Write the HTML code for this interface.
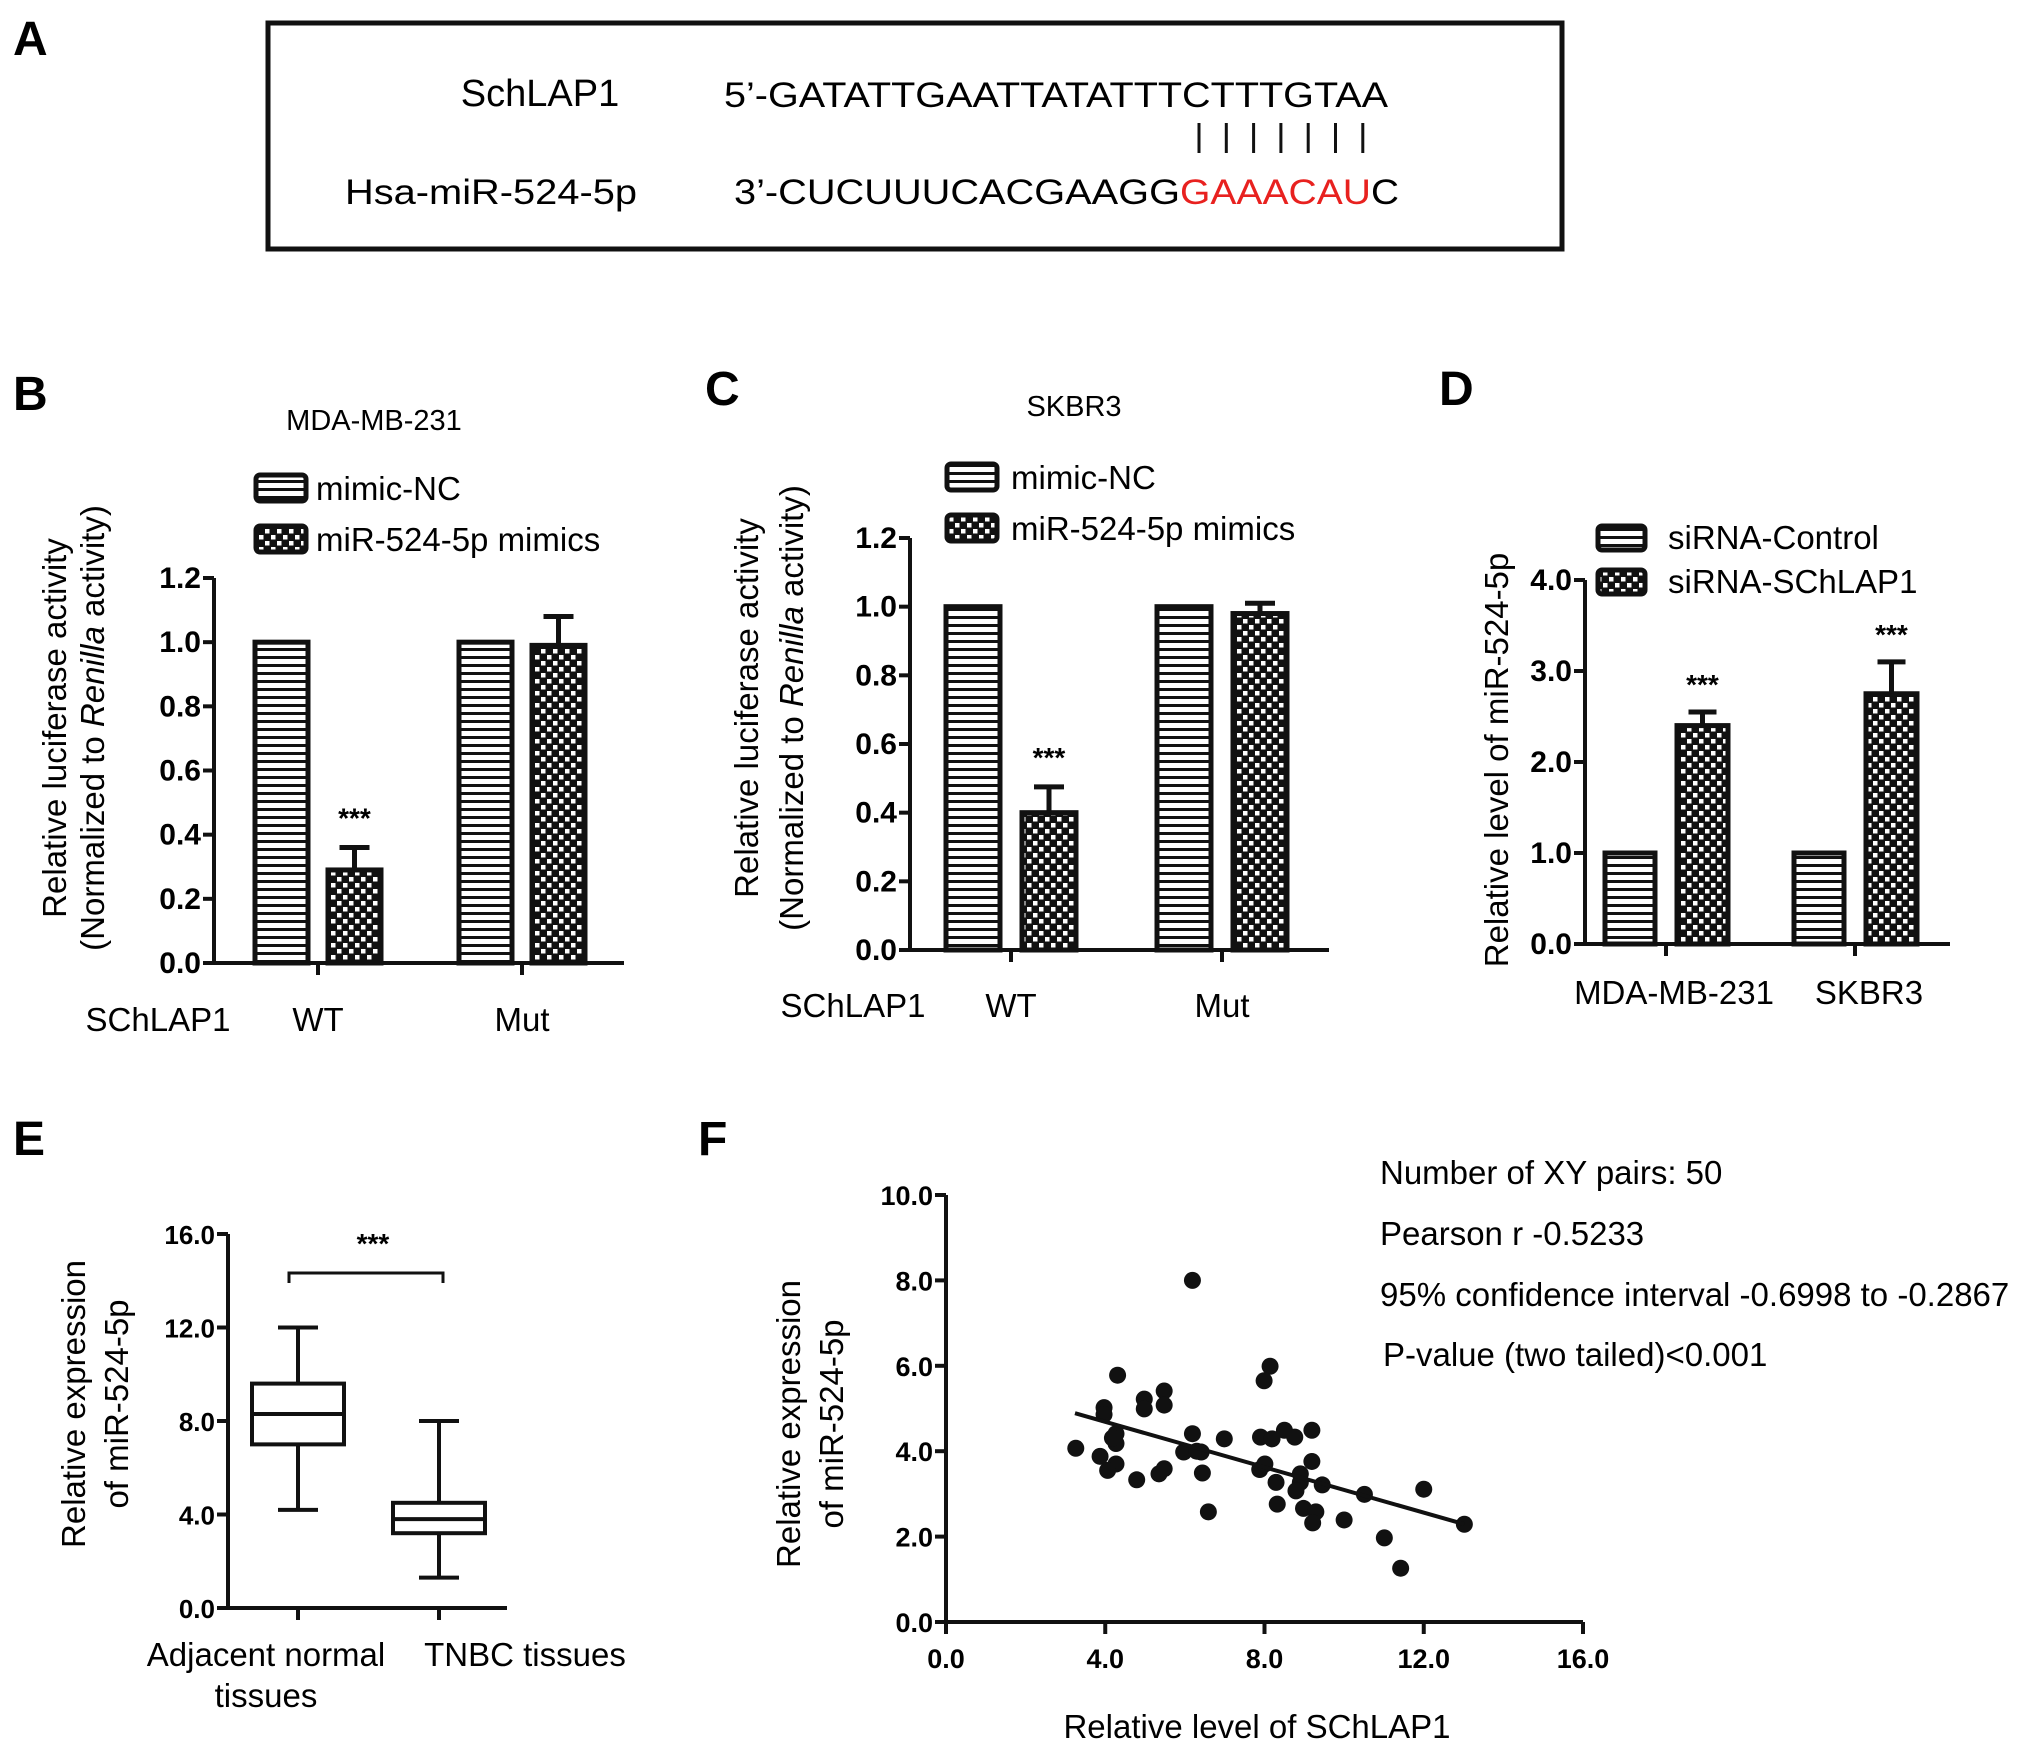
<!DOCTYPE html>
<html><head><meta charset="utf-8"><style>
html,body{margin:0;padding:0;background:#fff;}
svg{display:block;font-family:"Liberation Sans",Arial,sans-serif;}
</style></head><body>
<svg id="fig" width="2031" height="1746" viewBox="0 0 2031 1746" xmlns="http://www.w3.org/2000/svg">
<defs>
<pattern id="stripes" width="8" height="8" patternUnits="userSpaceOnUse"><rect width="8" height="8" fill="#fff"/><rect y="0" width="8" height="3" fill="#111"/></pattern>
<pattern id="checks" width="12" height="12" patternUnits="userSpaceOnUse"><rect width="12" height="12" fill="#111"/><rect x="1" y="1" width="4.5" height="4.5" fill="#fff"/><rect x="7" y="7" width="4.5" height="4.5" fill="#fff"/></pattern>
</defs>
<g>
<text x="13" y="55" font-size="48" font-weight="bold">A</text>
<rect x="268" y="23" width="1294" height="226" fill="none" stroke="#111" stroke-width="5"/>
<text x="540" y="106" font-size="38" text-anchor="middle">SchLAP1</text>
<text x="724" y="107" font-size="35" textLength="664" lengthAdjust="spacingAndGlyphs">5’-GATATTGAATTATATTTCTTTGTAA</text>
<g id="pairs"></g>
<text x="345" y="204" font-size="35" textLength="292" lengthAdjust="spacingAndGlyphs">Hsa-miR-524-5p</text>
<text x="734" y="204" font-size="35" textLength="446" lengthAdjust="spacingAndGlyphs">3’-CUCUUUCACGAAGG</text>
<text x="1180" y="204" font-size="35" fill="#e8211f" textLength="191" lengthAdjust="spacingAndGlyphs">GAAACAU</text>
<text x="1371" y="204" font-size="35" textLength="28" lengthAdjust="spacingAndGlyphs">C</text>
</g>
<g id="pb"></g>
<g id="pc"></g>
<g id="pd"></g>
<g id="pe"></g>
<g id="pf"></g>
</svg>
<script>
// ---- data ----
const bCategories = ["WT", "Mut"];
const bNC = [1.0, 1.0];
const bMimic = [0.29, 0.99];
const bMimicErr = [0.07, 0.09];
const bTicks = ["0.0","0.2","0.4","0.6","0.8","1.0","1.2"];

const cCategories = ["WT", "Mut"];
const cNC = [1.0, 1.0];
const cMimic = [0.40, 0.98];
const cMimicErr = [0.075, 0.03];
const cTicks = ["0.0","0.2","0.4","0.6","0.8","1.0","1.2"];

const dCategories = ["MDA-MB-231", "SKBR3"];
const dControl = [1.0, 1.0];
const dSi = [2.4, 2.75];
const dSiErr = [0.15, 0.35];
const dTicks = ["0.0","1.0","2.0","3.0","4.0"];

const eGroups = ["Adjacent normal tissues", "TNBC tissues"];
const eMin = [4.2, 1.3];
const eQ1 = [7.0, 3.2];
const eMed = [8.3, 3.8];
const eQ3 = [9.6, 4.5];
const eMax = [12.0, 8.0];
const eTicks = ["0.0","4.0","8.0","12.0","16.0"];

const fX = [6.19,8.14,7.99,4.31,5.48,5.48,4.98,4.98,3.97,3.97,4.27,4.27,3.26,3.87,4.27,4.06,4.79,5.35,5.48,6.19,5.97,6.41,6.44,6.99,6.59,7.90,8.19,8.50,8.76,9.19,9.19,7.88,8.29,8.90,8.79,9.45,8.32,8.98,9.29,9.21,10.00,10.51,11.01,11.42,12.0,13.02,8.01,8.9,4.18,6.3];
const fY = [8.0,5.99,5.65,5.78,5.41,5.08,5.22,4.99,5.02,4.86,4.41,4.18,4.07,3.88,3.70,3.55,3.33,3.47,3.59,4.41,3.98,3.98,3.49,4.29,2.58,4.33,4.29,4.49,4.33,4.49,3.76,3.57,3.27,3.27,3.07,3.21,2.76,2.66,2.58,2.32,2.39,2.99,1.97,1.26,3.11,2.29,3.70,3.47,4.31,4.0];
const fFit = [[3.24, 4.89], [13.02, 2.29]];
const fXTicks = ["0.0","4.0","8.0","12.0","16.0"];
const fYTicks = ["0.0","2.0","4.0","6.0","8.0","10.0"];

// ---- helpers ----
const NS = "http://www.w3.org/2000/svg";
function mk(parent, tag, attrs, text) {
  const el = document.createElementNS(NS, tag);
  for (const k in attrs) el.setAttribute(k, attrs[k]);
  if (text !== undefined) el.textContent = text;
  parent.appendChild(el);
  return el;
}
function linear(d0, d1, r0, r1) { return v => r0 + (v - d0) / (d1 - d0) * (r1 - r0); }

(function(){
  const g = document.getElementById('pairs');
  for (let i = 0; i < 7; i++) {
    const x = 1199 + i * 27.3;
    const l = mk(g, 'line', {x1:x, y1:123, x2:x, y2:153, stroke:'#111', 'stroke-width':3});
    
    
  }
})();

function yAxis(g, x, y0, y1, ticks, vmin, vmax, fs) {
  const ys = linear(vmin, vmax, y0, y1);
  const ax = mk(g, 'line', {x1:x, y1:y0+2, x2:x, y2:y1, stroke:'#111', 'stroke-width':4});
  
  
  ticks.forEach(t => {
    const y = ys(parseFloat(t));
    mk(g, 'line', {x1:x-11, y1:y, x2:x, y2:y, stroke:'#111', 'stroke-width':4});
    const tl = mk(g, 'text', {x:x-13, y:y+10, 'font-size':fs||30, 'font-weight':'bold', 'text-anchor':'end'}, t);
    
    
  });
  return ys;
}

function legend(g, x, y, w, h, gap, labels, tx, fs) {
  labels.forEach((lab, i) => {
    const yy = y + i * gap;
    const r = mk(g, 'rect', {x:x, y:yy, width:w, height:h, rx:4, fill: i===0?'url(#stripes)':'url(#checks)', stroke:'#111', 'stroke-width':5});
    
    
    const t = mk(g, 'text', {x:tx, y:yy+h-1, 'font-size':fs||33}, lab);
    
    
  });
}

function bar(g, x, w, ys, v, fill, name) {
  const top = ys(v), bot = ys(0);
  const r = mk(g, 'rect', {x:x, y:top, width:w, height:bot-top, fill:fill, stroke:'#111', 'stroke-width':5});
  
  
}
function errUp(g, cx, ys, v, e, cap) {
  const el = mk(g, 'path', {d:`M${cx},${ys(v)} V${ys(v+e)} M${cx-cap},${ys(v+e)} H${cx+cap}`, stroke:'#111', 'stroke-width':5, fill:'none'});
  
  
}
function stars(g, cx, y) {
  const s = mk(g, 'text', {x:cx, y:y, 'font-size':28, 'font-weight':'bold', 'text-anchor':'middle'}, '***');
  
  
}
function ytitle(g, cx, cy, lines, fs) {
  lines.forEach((ln, i) => {
    const t = mk(g, 'text', {x:0, y:0, 'font-size':fs||33, 'text-anchor':'middle', transform:`translate(${cx[i]},${cy}) rotate(-90)`});
    ln.forEach(part => { mk(t, 'tspan', part.it?{'font-style':'italic'}:{}, part.t); });
    
    
  });
}
function label(g, x, y, txt, fs, opts, name) {
  const a = Object.assign({x:x, y:y, 'font-size':fs, 'text-anchor':'middle'}, opts||{});
  const t = mk(g, 'text', a, txt);
  
  
  return t;
}

function lucPanel(id, letter, lx, ly, title, tx, ty, leg, axis, cats, nc, mim, err, ticks, bw, off, catX, schX, labY) {
  const g = document.getElementById(id);
  label(g, lx, ly, letter, 48, {'font-weight':'bold','text-anchor':'start'}, 'panel-label');
  label(g, tx, ty, title, 29, {}, 'panel-title');
  legend(g, leg.x, leg.y, 50, 26, leg.gap, ['mimic-NC','miR-524-5p mimics'], leg.tx);
  const ys = yAxis(g, axis.x, axis.y0, axis.y1, ticks, 0, 1.2);
  const xa = mk(g, 'line', {x1:axis.x-2, y1:axis.y0, x2:axis.xe, y2:axis.y0, stroke:'#111', 'stroke-width':4});
  
  
  cats.forEach((c, i) => {
    const cx = catX[i];
    bar(g, cx - off - bw, bw, ys, nc[i], 'url(#stripes)', 'bar-mimic-nc-' + c.toLowerCase());
    bar(g, cx + off, bw, ys, mim[i], 'url(#checks)', 'bar-mimics-' + c.toLowerCase());
    errUp(g, cx + off + bw/2, ys, mim[i], err[i], 15);
    mk(g, 'line', {x1:cx, y1:axis.y0, x2:cx, y2:axis.y0+12, stroke:'#111', 'stroke-width':4});
    label(g, cx, labY, c, 33, {}, 'x-tick-label');
  });
  stars(g, catX[0] + off + bw/2, ys(mim[0]+err[0]) - 20);
  label(g, schX, labY, 'SChLAP1', 33, {}, 'x-group-title');
  return g;
}
const gb = lucPanel('pb','B',13,410,'MDA-MB-231',374,430,{x:256,y:475,gap:51,tx:316},{x:214,y0:963,y1:578,xe:624},bCategories,bNC,bMimic,bMimicErr,bTicks,53,10,[318,522],158,1031);
ytitle(gb,[66,104],728,[[{t:'Relative luciferase activity'}],[{t:'(Normalized to '},{t:'Renilla',it:true},{t:' activity)'}]]);
const gc = lucPanel('pc','C',705,405,'SKBR3',1074,416,{x:947,y:464,gap:51,tx:1011},{x:910,y0:950,y1:538,xe:1329},cCategories,cNC,cMimic,cMimicErr,cTicks,54,11,[1011,1222],853,1017);
ytitle(gc,[758,803],708,[[{t:'Relative luciferase activity'}],[{t:'(Normalized to '},{t:'Renilla',it:true},{t:' activity)'}]]);

(function(){
  const g = document.getElementById('pd');
  label(g, 1439, 405, 'D', 48, {'font-weight':'bold','text-anchor':'start'}, 'panel-label');
  legend(g, 1598, 526, 47, 24, 44, ['siRNA-Control','siRNA-SChLAP1'], 1668);
  const ys = yAxis(g, 1585, 944, 580, dTicks, 0, 4);
  const xa = mk(g, 'line', {x1:1583, y1:944, x2:1950, y2:944, stroke:'#111', 'stroke-width':4});
  
  
  const cxs = [1666, 1855];
  dCategories.forEach((c, i) => {
    const cx = cxs[i];
    bar(g, cx - 61, 50, ys, dControl[i], 'url(#stripes)', 'bar-sirna-control');
    bar(g, cx + 11, 51, ys, dSi[i], 'url(#checks)', 'bar-sirna-schlap1');
    errUp(g, cx + 36.5, ys, dSi[i], dSiErr[i], 14);
    stars(g, cx + 36.5, ys(dSi[i] + dSiErr[i]) - 18);
    mk(g, 'line', {x1:cx, y1:944, x2:cx, y2:956, stroke:'#111', 'stroke-width':4});
    label(g, cx + (i===0?8:14), 1004, c, 33, {}, 'x-tick-label');
  });
  ytitle(g, [1508], 760, [[{t:'Relative level of miR-524-5p'}]]);
})();

(function(){
  const g = document.getElementById('pe');
  label(g, 13, 1155, 'E', 48, {'font-weight':'bold','text-anchor':'start'}, 'panel-label');
  const ys = yAxis(g, 228, 1608, 1234, eTicks, 0, 16, 26);
  const xa = mk(g, 'line', {x1:226, y1:1608, x2:507, y2:1608, stroke:'#111', 'stroke-width':4});
  
  
  const cxs = [298, 439], hw = 46;
  eGroups.forEach((c, i) => {
    const cx = cxs[i];
    const el = mk(g, 'path', {d:`M${cx},${ys(eMin[i])} V${ys(eQ1[i])} M${cx},${ys(eQ3[i])} V${ys(eMax[i])} M${cx-20},${ys(eMin[i])} H${cx+20} M${cx-20},${ys(eMax[i])} H${cx+20} M${cx-hw},${ys(eMed[i])} H${cx+hw}`, stroke:'#111', 'stroke-width':4, fill:'none'});
    
    
    const b = mk(g, 'rect', {x:cx-hw, y:ys(eQ3[i]), width:hw*2, height:ys(eQ1[i])-ys(eQ3[i]), fill:'none', stroke:'#111', 'stroke-width':4});
    
    
    mk(g, 'line', {x1:cx, y1:1608, x2:cx, y2:1620, stroke:'#111', 'stroke-width':4});
  });
  const br = mk(g, 'path', {d:'M289,1283 V1273 H443 V1283', stroke:'#111', 'stroke-width':3, fill:'none'});
  
  
  stars(g, 373, 1253);
  label(g, 266, 1666, 'Adjacent normal', 33, {}, 'x-tick-label');
  label(g, 266, 1707, 'tissues', 33, {}, 'x-tick-label');
  label(g, 525, 1666, 'TNBC tissues', 33, {}, 'x-tick-label');
  ytitle(g, [85,128], 1404, [[{t:'Relative expression'}],[{t:'of miR-524-5p'}]]);
})();

(function(){
  const g = document.getElementById('pf');
  label(g, 698, 1155, 'F', 48, {'font-weight':'bold','text-anchor':'start'}, 'panel-label');
  const ys = yAxis(g, 946, 1622, 1195, fYTicks, 0, 10, 27);
  const xs = linear(0, 16, 946, 1583);
  const xa = mk(g, 'line', {x1:944, y1:1622, x2:1583, y2:1622, stroke:'#111', 'stroke-width':4});
  
  
  fXTicks.forEach(t => {
    const x = xs(parseFloat(t));
    mk(g, 'line', {x1:x, y1:1622, x2:x, y2:1634, stroke:'#111', 'stroke-width':4});
    const tl = mk(g, 'text', {x:x, y:1668, 'font-size':27, 'font-weight':'bold', 'text-anchor':'middle'}, t);
    
    
  });
  fX.forEach((x, i) => {
    const c = mk(g, 'circle', {cx:xs(x), cy:ys(fY[i]), r:8.5, fill:'#111'});
    
    
  });
  const fl = mk(g, 'line', {x1:xs(fFit[0][0]), y1:ys(fFit[0][1]), x2:xs(fFit[1][0]), y2:ys(fFit[1][1]), stroke:'#111', 'stroke-width':4});
  
  
  label(g, 1257, 1738, 'Relative level of SChLAP1', 33, {}, 'x-axis-title');
  ytitle(g, [800,843], 1424, [[{t:'Relative expression'}],[{t:'of miR-524-5p'}]]);
  const stats = ['Number of XY pairs: 50','Pearson r -0.5233','95% confidence interval -0.6998 to -0.2867','P-value (two tailed)<0.001'];
  const sy = [1184, 1245, 1306, 1366];
  stats.forEach((s, i) => label(g, i===3?1383:1380, sy[i], s, 33, {'text-anchor':'start'}, 'stats-text'));
})();
</script>
</body></html>
